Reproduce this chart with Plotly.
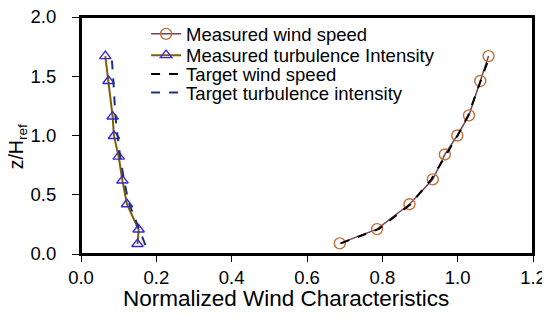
import plotly.graph_objects as go

heights_ws = [0.09, 0.21, 0.42, 0.63, 0.84, 1.00, 1.17, 1.46, 1.67]
ws_measured = [0.687, 0.786, 0.872, 0.934, 0.966, 0.999, 1.030, 1.060, 1.082]

heights_ti = [0.084, 0.207, 0.42, 0.62, 0.822, 0.996, 1.16, 1.46, 1.67]
ti_measured = [0.150, 0.153, 0.122, 0.110, 0.100, 0.0875, 0.084, 0.073, 0.0645]

heights_ws_target = [0.09, 0.21, 0.42, 0.63, 0.84, 1.00, 1.17, 1.46, 1.67]
ws_target = [0.690, 0.790, 0.875, 0.930, 0.970, 1.000, 1.028, 1.062, 1.085]

heights_ti_target = [0.075, 0.20, 0.44, 0.63, 0.82, 1.00, 1.18, 1.46, 1.64]
ti_target = [0.171, 0.156, 0.126, 0.114, 0.104, 0.097, 0.091, 0.086, 0.082]

x_ticks = [0.0, 0.2, 0.4, 0.6, 0.8, 1.0, 1.2]
y_ticks = [0.0, 0.5, 1.0, 1.5, 2.0]

series_names = ["Measured wind speed", "Measured turbulence Intensity",
                "Target wind speed", "Target turbulence intensity"]

FONT = "Liberation Sans, Arial, sans-serif"

fig = go.Figure()
fig.add_trace(go.Scatter(
    x=ws_measured, y=heights_ws, mode="lines+markers", name=series_names[0],
    line=dict(color="#6e4656", width=1.5),
    marker=dict(symbol="circle-open", size=11, color="#c0703a", line=dict(width=1.4)),
    legend="legend",
))
fig.add_trace(go.Scatter(
    x=ti_measured, y=heights_ti, mode="lines+markers", name=series_names[1],
    line=dict(color="#7f6000", width=2),
    marker=dict(symbol="triangle-up-open", size=10, color="#3a2bd8", line=dict(width=1.4)),
    legend="legend2",
))
fig.add_trace(go.Scatter(
    x=ws_target, y=heights_ws_target, mode="lines", name=series_names[2],
    line=dict(color="#000000", width=2, dash="dash"),
    legend="legend3",
))
fig.add_trace(go.Scatter(
    x=ti_target, y=heights_ti_target, mode="lines", name=series_names[3],
    line=dict(color="#1f3080", width=2, dash="dash"),
    legend="legend4",
))

legend_rows = [0.927, 0.837, 0.757, 0.679]


def leg(yv):
    return dict(x=0.144, y=yv, xanchor="left", yanchor="middle",
                bgcolor="rgba(0,0,0,0)", font=dict(size=18.5, family=FONT),
                itemwidth=30, borderwidth=0)


# page body has an 8px default margin, so the figure is sized to fit the window
fig.update_layout(
    width=542, height=313,
    margin=dict(l=73, r=17, t=7, b=67),
    paper_bgcolor="white", plot_bgcolor="white",
    font=dict(family=FONT, color="black", size=18.5),
    showlegend=True,
    legend=leg(legend_rows[0]),
    legend2=leg(legend_rows[1]),
    legend3=leg(legend_rows[2]),
    legend4=leg(legend_rows[3]),
    xaxis=dict(range=[0, 1.2], tickvals=x_ticks, ticktext=[f"{v:.1f}" for v in x_ticks],
               showgrid=False, zeroline=False, showline=True, linecolor="black",
               linewidth=2, mirror=True, ticks="outside", ticklen=6, tickcolor="black",
               tickwidth=1, automargin=False, ticklabelstandoff=0,
               ticklabeloverflow="allow"),
    yaxis=dict(range=[0, 2.0], tickvals=y_ticks, ticktext=[f"{v:.1f}" for v in y_ticks],
               showgrid=False, zeroline=False, showline=True, linecolor="black",
               linewidth=2, mirror=True, ticks="outside", ticklen=7, tickcolor="black",
               tickwidth=1, automargin=False, ticklabelstandoff=12,
               ticklabeloverflow="allow"),
    shapes=[dict(type="rect", xref="paper", yref="paper", x0=0, x1=1, y0=0, y1=1,
                 line=dict(color="black", width=2), fillcolor="rgba(0,0,0,0)",
                 layer="above")],
    annotations=[
        dict(text="Normalized Wind Characteristics", xref="paper", yref="paper",
             x=0.454, y=-0.188, xanchor="center", yanchor="middle", showarrow=False,
             font=dict(size=22.5, family=FONT)),
        dict(text="z/H<sub>ref</sub>", xref="paper", yref="paper",
             x=-0.14, y=0.453, xanchor="center", yanchor="middle", showarrow=False,
             textangle=-90, font=dict(size=19.5, family=FONT)),
    ],
)

fig.write_html("out.html")
